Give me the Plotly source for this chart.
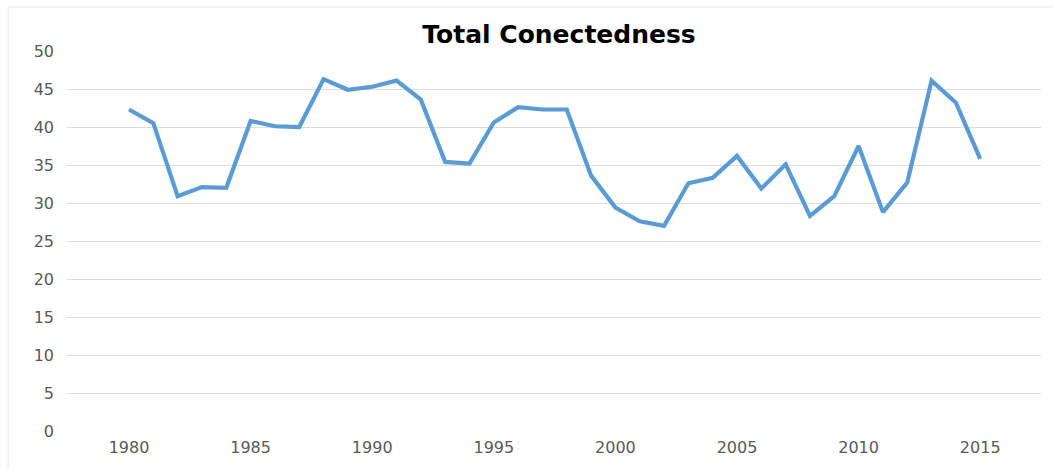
import plotly.graph_objects as go

years = list(range(1980, 2016))
total_connectedness = [
    42.3, 40.5, 30.9, 32.1, 32.0, 40.8, 40.1, 40.0, 46.3, 44.9,
    45.3, 46.1, 43.6, 35.4, 35.2, 40.6, 42.6, 42.3, 42.3, 33.6,
    29.4, 27.6, 27.0, 32.6, 33.3, 36.2, 31.9, 35.1, 28.3, 30.9,
    37.5, 28.8, 32.7, 46.1, 43.2, 35.8,
]
x_ticks = [1980, 1985, 1990, 1995, 2000, 2005, 2010, 2015]
y_ticks = [0, 5, 10, 15, 20, 25, 30, 35, 40, 45, 50]
title_text = "Total Conectedness"

W, H = 1053, 469
L, R, T, B = 67, 12, 51, 38
pw, ph = W - L - R, H - T - B

fig = go.Figure()
fig.add_trace(go.Scatter(
    x=years, y=total_connectedness, mode="lines",
    line=dict(color="#5B9BD5", width=4.2),
    hoverinfo="x+y", showlegend=False,
))

tick_font = dict(family="DejaVu Sans", size=16, color="#595959")

fig.update_layout(
    width=W, height=H,
    margin=dict(l=L, r=R, t=T, b=B),
    paper_bgcolor="white", plot_bgcolor="white",
    title=dict(text="<b>" + title_text + "</b>", x=(559 - L) / pw, xref="paper",
               xanchor="center", y=1 - 34 / H, yanchor="middle",
               font=dict(family="DejaVu Sans", size=25, color="black")),
    xaxis=dict(range=[1977.45, 2017.5], tickmode="array", tickvals=x_ticks,
               showgrid=False, zeroline=False, showline=False,
               ticks="", tickfont=tick_font, ticklabelstandoff=5),
    yaxis=dict(range=[0, 50], tickmode="array", tickvals=y_ticks,
               showgrid=True, gridcolor="#DDDDDD", gridwidth=1,
               zeroline=False, showline=False, ticks="",
               tickfont=tick_font, ticklabelstandoff=12),
    shapes=[
        dict(type="line", xref="paper", yref="paper",
             x0=(8 - L) / pw, x1=(8 - L) / pw, y0=(H - B - 470) / ph, y1=(H - B - 7) / ph,
             line=dict(color="#E6E6E6", width=1)),
        dict(type="line", xref="paper", yref="paper",
             x0=(8 - L) / pw, x1=(1060 - L) / pw, y0=(H - B - 7) / ph, y1=(H - B - 7) / ph,
             line=dict(color="#E6E6E6", width=1)),
    ],
)

fig.write_html("out.html")
